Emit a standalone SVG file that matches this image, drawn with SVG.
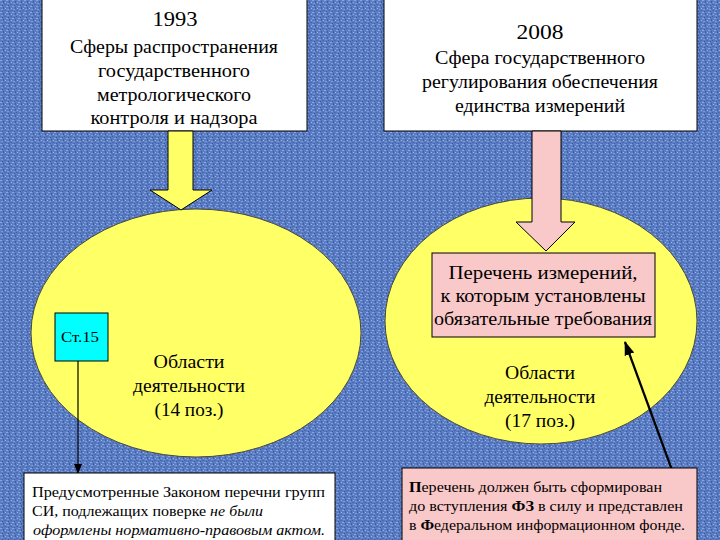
<svg xmlns="http://www.w3.org/2000/svg" width="720" height="540" viewBox="0 0 720 540">
<defs>
<pattern id="bg" width="6" height="6" patternUnits="userSpaceOnUse">
<rect width="6" height="6" fill="#5a7cc2"/>
<rect x="0" y="0" width="2" height="1" fill="#8aa6e0"/>
<rect x="3" y="1" width="1" height="2" fill="#3e5ea6"/>
<rect x="1" y="3" width="2" height="1" fill="#7c98d6"/>
<rect x="4" y="4" width="2" height="1" fill="#4a69b0"/>
<rect x="5" y="2" width="1" height="1" fill="#9db4e6"/>
<rect x="2" y="5" width="1" height="1" fill="#3a5aa0"/>
</pattern>
<marker id="ah" markerWidth="10" markerHeight="10" refX="9" refY="5" orient="auto" markerUnits="userSpaceOnUse">
<path d="M0,1 L10,5 L0,9 z" fill="#000"/>
</marker>
<marker id="ah2" markerWidth="14" markerHeight="14" refX="13" refY="7" orient="auto" markerUnits="userSpaceOnUse">
<path d="M0,2 L14,7 L0,12 z" fill="#000"/>
</marker>
</defs>
<style>
text{font-family:"Liberation Serif","Times New Roman",serif;fill:#000}
.c{text-anchor:middle}
.box{fill:#fff;stroke:#000;stroke-width:1}
.ell{fill:#ffff66;stroke:#4a4a3a;stroke-width:1}
.pink{fill:#f9c8c8;stroke:#000;stroke-width:1}
.t19{font-size:19px}
.t18{font-size:18px}
.t15{font-size:14.5px}
.t14{font-size:14px}
</style>
<rect width="720" height="540" fill="url(#bg)"/>

<g id="ellipse1993">
<ellipse class="ell" cx="196" cy="333" rx="165" ry="124"/>
<text class="c t18" x="189" y="368" textLength="71" lengthAdjust="spacingAndGlyphs">Области</text>
<text class="c t18" x="189" y="392" textLength="112" lengthAdjust="spacingAndGlyphs">деятельности</text>
<text class="c t18" x="189" y="416" textLength="69" lengthAdjust="spacingAndGlyphs">(14 поз.)</text>
</g>
<g id="ellipse2008">
<ellipse class="ell" cx="541" cy="321" rx="156" ry="123"/>
<text class="c t18" x="540" y="379" textLength="70" lengthAdjust="spacingAndGlyphs">Области</text>
<text class="c t18" x="540" y="403" textLength="111" lengthAdjust="spacingAndGlyphs">деятельности</text>
<text class="c t18" x="540" y="427" textLength="70" lengthAdjust="spacingAndGlyphs">(17 поз.)</text>
</g>

<g id="box1993">
<rect class="box" x="42" y="-1" width="265" height="132"/>
<text class="c" x="175" y="26" font-size="22" textLength="45" lengthAdjust="spacingAndGlyphs">1993</text>
<text class="c t19" x="174" y="53" textLength="208" lengthAdjust="spacingAndGlyphs">Сферы распространения</text>
<text class="c t19" x="174" y="77" textLength="152" lengthAdjust="spacingAndGlyphs">государственного</text>
<text class="c t19" x="174" y="101" textLength="154" lengthAdjust="spacingAndGlyphs">метрологического</text>
<text class="c t19" x="174" y="124" textLength="167" lengthAdjust="spacingAndGlyphs">контроля и надзора</text>
</g>
<g id="box2008">
<rect class="box" x="384" y="-1" width="313" height="132"/>
<text class="c" x="540" y="39" font-size="22" textLength="47" lengthAdjust="spacingAndGlyphs">2008</text>
<text class="c t19" x="540" y="64" textLength="210" lengthAdjust="spacingAndGlyphs">Сфера государственного</text>
<text class="c t19" x="540" y="88" textLength="236" lengthAdjust="spacingAndGlyphs">регулирования обеспечения</text>
<text class="c t19" x="540" y="112" textLength="170" lengthAdjust="spacingAndGlyphs">единства измерений</text>
</g>

<g id="connectors">
<path d="M168,131 H193 V190 H212 L181,210 L150,190 H168 Z" fill="#ffff66" stroke="#000" stroke-width="1"/>
<path d="M532,131 H561 V222 H575 L546,251 L516,222 H532 Z" fill="#f9c8c8" stroke="#000" stroke-width="1"/>
<line x1="78" y1="361" x2="78" y2="473" stroke="#000" stroke-width="1.2" marker-end="url(#ah)"/>
<line x1="672" y1="470" x2="625" y2="342" stroke="#000" stroke-width="2.2" marker-end="url(#ah2)"/>
</g>

<g id="list">
<rect class="pink" x="432" y="253" width="223" height="84"/>
<text class="c t18" x="543" y="279" textLength="189" lengthAdjust="spacingAndGlyphs">Перечень  измерений,</text>
<text class="c t18" x="543" y="302" textLength="205" lengthAdjust="spacingAndGlyphs">к которым установлены</text>
<text class="c t18" x="543" y="325" textLength="218" lengthAdjust="spacingAndGlyphs">обязательные требования</text>
</g>

<g id="st15">
<rect x="55" y="313" width="53" height="48" fill="#00ffff" stroke="#000" stroke-width="1"/>
<text class="c t14" x="80" y="342" textLength="38" lengthAdjust="spacingAndGlyphs">Ст.15</text>
</g>

<g id="note1993">
<rect class="box" x="24" y="473" width="311" height="70"/>
<text class="t15" x="32" y="497" textLength="293" lengthAdjust="spacingAndGlyphs">Предусмотренные Законом перечни  групп</text>
<text class="t15" x="32" y="516" textLength="231" lengthAdjust="spacingAndGlyphs">СИ, подлежащих поверке <tspan font-style="italic">не были</tspan></text>
<text class="t15" x="33" y="535" font-style="italic" textLength="292" lengthAdjust="spacingAndGlyphs">оформлены нормативно-правовым  актом.</text>
</g>

<g id="note2008">
<rect class="pink" x="402" y="468" width="295" height="75"/>
<text class="t14" x="409" y="492" textLength="253" lengthAdjust="spacingAndGlyphs"><tspan font-weight="bold">П</tspan>еречень должен быть сформирован</text>
<text class="t14" x="409" y="511" textLength="274" lengthAdjust="spacingAndGlyphs">до вступления <tspan font-weight="bold">ФЗ</tspan> в силу  и представлен</text>
<text class="t14" x="409" y="530" textLength="276" lengthAdjust="spacingAndGlyphs">в <tspan font-weight="bold">Ф</tspan>едеральном информационном фонде.</text>
</g>
</svg>
